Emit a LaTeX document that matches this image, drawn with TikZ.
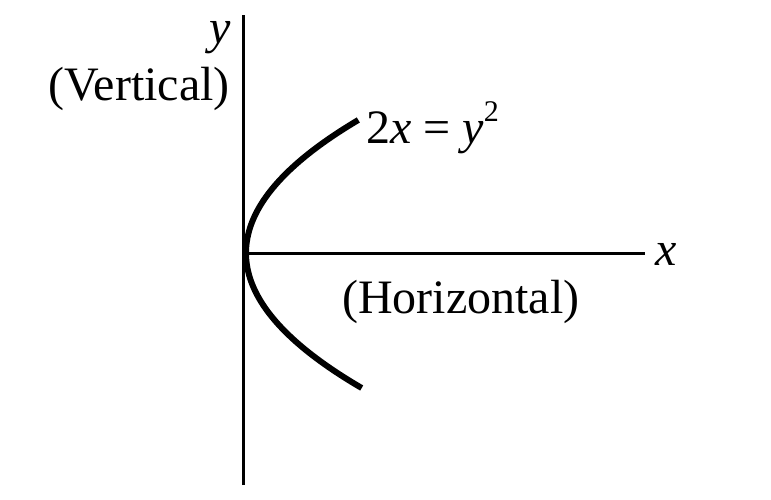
\documentclass[tikz,border=0pt]{standalone}
\usepackage{fontspec}
\setmainfont{Liberation Serif}
\newfontfamily\termsfont{Liberation Serif}
\usepackage{tikz}

\begin{document}
\begin{tikzpicture}[
        x=1pt, y=-1pt,
        axis/.style={
            line width=3pt
        },
        curve/.style={
            line width=6pt,
            line cap=butt
        },
        lbl/.style={
            inner sep=0pt,
            font=\termsfont\fontsize{48}{56}\selectfont
        }
    ]
    \useasboundingbox (0,0) rectangle (771,499);

    \coordinate (o) at (243,253);
    \coordinate (ytop) at (243,15);
    \coordinate (ybot) at (243,485);
    \coordinate (xend) at (645,253);

    % axes
    \draw[axis] (ybot) -- (ytop);
    \draw[axis] (o) -- (xend);

    % the parabola 2x = y^2
    \draw[curve] plot[domain=-133:135, samples=60, smooth]
        ({246+114*(\x/134)^2}, {253+\x});

    \node[lbl, anchor=base] (ylab) at (220,43) {\textit{y}};
    \node[lbl, anchor=base east] (vert) at (230,100) {(Vertical)};
    \node[lbl, anchor=base] (xlab) at (666,265) {\textit{x}};
    \node[lbl, anchor=base west] (horiz) at (342,313) {(Horizontal)};
    \node[lbl, anchor=base west] (eqn) at (366,143)
        {2\textit{x} = \textit{y}\raisebox{0.45em}{\fontsize{30}{34}\selectfont 2}};

\end{tikzpicture}
\end{document}
